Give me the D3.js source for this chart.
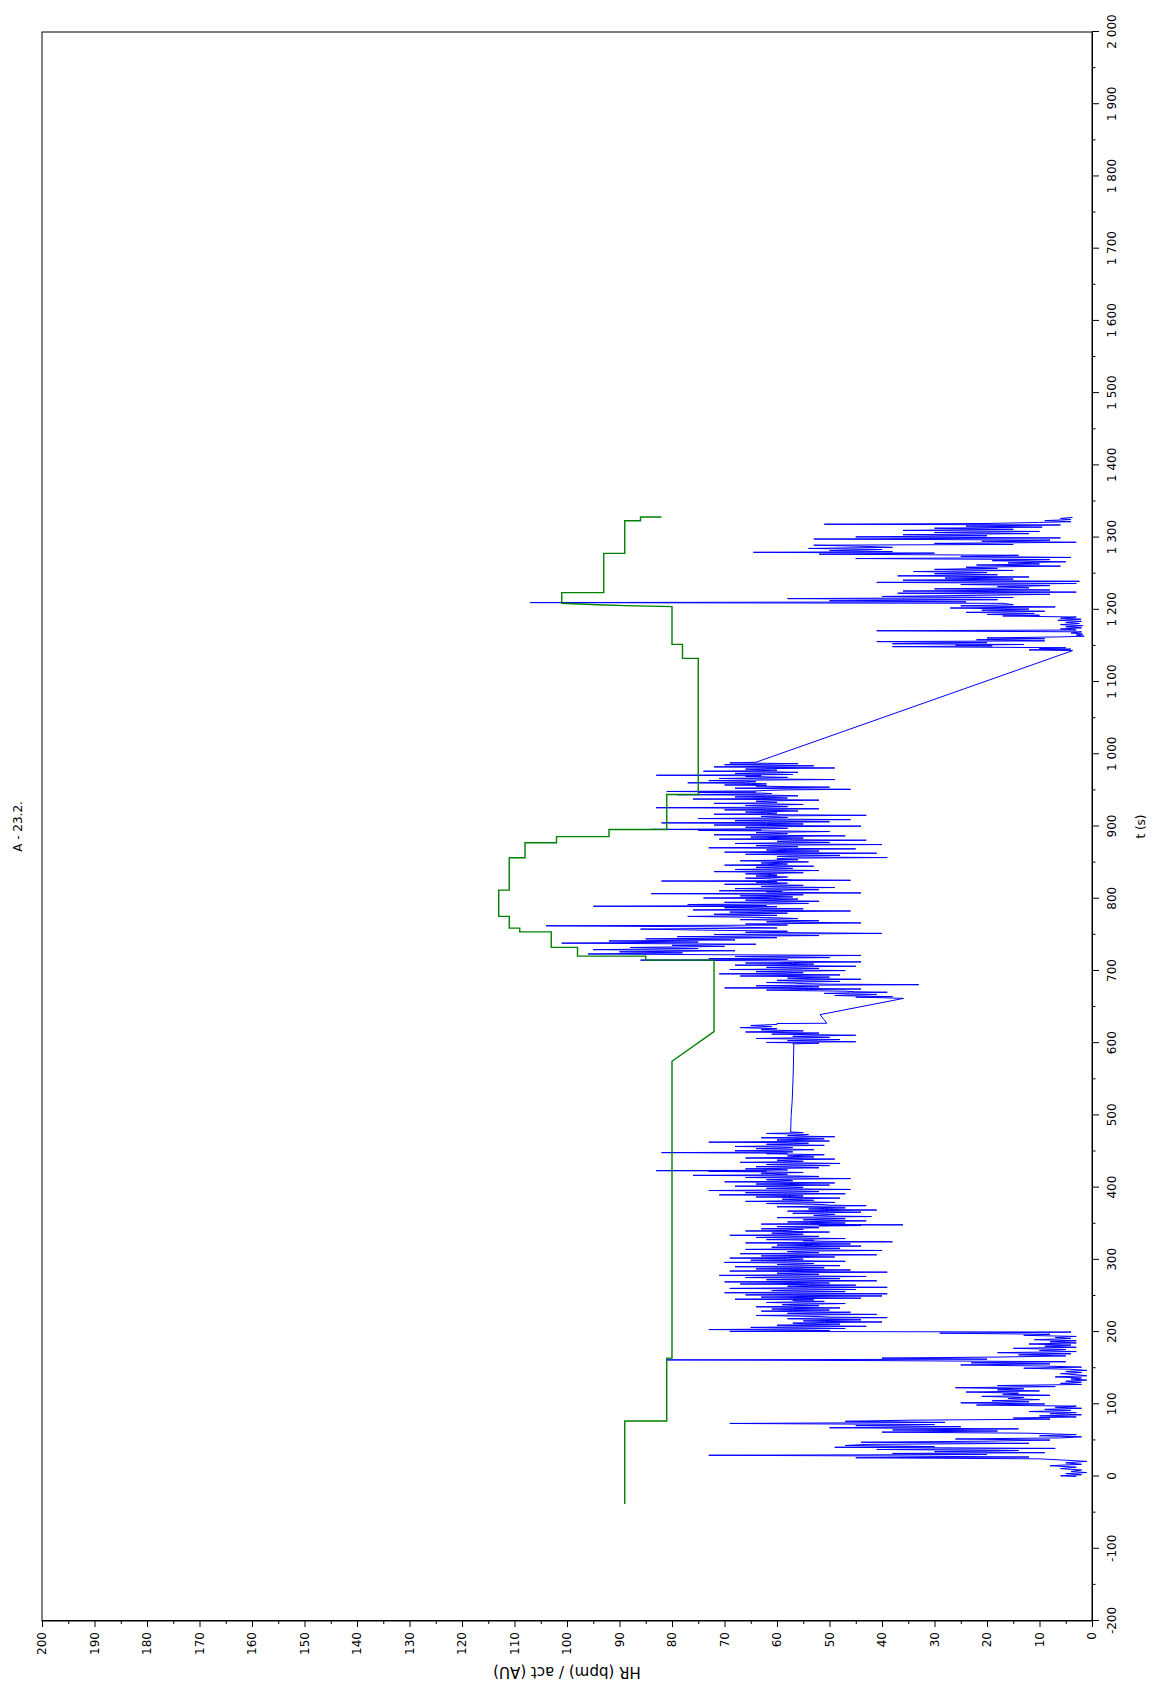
<!DOCTYPE html>
<html><head><meta charset="utf-8">
<script src="https://cdn.jsdelivr.net/npm/d3@7"></script>
<style>
body{margin:0;background:#fff}
svg{display:block}
text{font-family:"DejaVu Sans",sans-serif;fill:#000}
</style>
</head><body>
<script>
// ---------- texts ----------
const titleText = "A - 23.2.";
const tAxisLabel = "t (s)";
const hrAxisLabel = "HR (bpm) / act (AU)";

// ---------- ticks ----------
const tMajorTicks = [-200,-100,0,100,200,300,400,500,600,700,800,900,1000,1100,1200,1300,1400,1500,1600,1700,1800,1900,2000];
const tMinorTicks = [-150,-50,50,150,250,350,450,550,650,750,850,950,1050,1150,1250,1350,1450,1550,1650,1750,1850,1950];
const hrMajorTicks = [0,10,20,30,40,50,60,70,80,90,100,110,120,130,140,150,160,170,180,190,200];
const hrMinorTicks = [5,15,25,35,45,55,65,75,85,95,105,115,125,135,145,155,165,175,185,195];

// ---------- green series: activity (t, AU) ----------
const actSeries = [[-38,89],[77,89],[77,81],[164,81],[164,80],[575,80],[616,72],[715,72],[715,85],[720.6,85],[720.6,98],[732.7,98],[732.7,103],[754.1,103],[754.1,109],[759.3,109],[759.3,111],[775.6,111],[775.6,113],[811.9,113],[811.9,111],[856.7,111],[856.7,108],[877.6,108],[877.6,102],[886,102],[886,92],[895.8,92],[895.8,81],[944.3,81],[944.3,75],[1132.8,75],[1132.8,78],[1152.2,78],[1152.2,80],[1204.4,80],[1205.8,89],[1207,94],[1209,101],[1223.8,101],[1223.8,93],[1278.2,93],[1278.2,89],[1323.4,89],[1323.4,86],[1328.5,86],[1328.5,82]];

// ---------- blue series: HR (t, bpm), in segments ----------
const hrStart = [[0,3],[1,6],[2.5,2],[4,5],[5.5,1],[7,4],[9,2],[11,6],[13,3],[15,8],[17,2],[19,5],[21,1],[23,6],[24.5,10],[26,45],[27,12],[28.5,40],[29.5,73],[30.5,20],[32,38],[33,9],[34.5,30],[36,14],[37.5,41],[39,7],[40.5,49],[41.5,30],[43,47],[44.5,43],[46,12],[47.5,44],[49,20],[50.5,8],[52,26],[53.5,6],[55,2],[56.5,10],[58,3],[60,12],[61.5,40],[63,18],[64.5,38],[66,14],[67.5,50],[69,25],[70.5,45],[72,30],[73.5,69],[75,28],[76.5,47],[78,35],[79.5,8],[81,15],[82.5,3],[84,10],[85.5,2],[87,8],[88.5,3],[90,12],[91.5,4],[93,9],[94.5,2],[96,7],[97.5,3],[99,22],[100.5,9],[102,25],[103.5,12],[105,19],[106.5,10],[108,16],[109.5,13],[111,21],[112.5,8],[114,17],[115.5,14],[117,24],[118.5,10],[120,18],[121.5,13],[123,26],[124.5,7],[126,18],[127.5,2],[129,6],[130.5,2],[132,5],[133.5,1],[135,4],[136.5,2],[138,7],[139.5,1],[141,3],[142.5,6],[144,2],[145.5,5],[147,1],[148.5,4],[150,13],[151.5,2],[153,9],[154.5,25],[156,8],[157.5,23],[159,5],[160.5,40],[161.5,81],[162.5,20],[164,40],[165.5,17],[167,5],[168.5,14],[170,4],[171.5,18],[173,3],[174.5,10],[176,5],[177.5,15],[179,3],[180.5,9],[182,4],[183.5,12],[185,3],[186.5,8],[188,3],[189.5,11],[191,4],[192.5,7],[194,3],[195.5,13],[197,8],[198.5,29],[200,4]];

const hrRest = [[201,69],[201.7,58],[202,50],[202.8,56],[203.5,73],[204.2,60],[205,47],[205.7,55],[206.5,65],[207.2,57],[208,43],[208.7,52],[209.5,60],[210.2,54],[211,48],[211.7,55],[212.5,57],[213.2,51],[214,40],[214.7,50],[215.5,55],[216.2,49],[217,44],[217.7,52],[218.5,58],[219.2,53],[220,39],[220.7,50],[221.5,52],[222.2,57],[223,64],[223.7,55],[224.5,41],[225.2,53],[226,58],[226.7,52],[227.5,46],[228.2,56],[229,63],[229.7,57],[230.5,50],[231.2,58],[232,61],[232.7,55],[233.5,48],[234.2,57],[235,64],[235.7,58],[236.5,52],[237.2,57],[238,59],[238.7,54],[239.5,47],[240.2,55],[241,62],[241.7,57],[242.5,51],[243.2,56],[244,57],[244.7,53],[245.5,68],[246.2,58],[247,44],[247.7,54],[248.5,63],[249.2,56],[250,40],[250.7,52],[251.5,66],[252.2,57],[253,39],[253.7,53],[254.5,70],[255.2,59],[256,47],[256.7,55],[257.5,61],[258.2,56],[259,45],[259.7,54],[260.5,69],[261.2,58],[262,39],[262.7,52],[263.5,58],[264.2,55],[265,45],[265.7,54],[266.5,67],[267.2,59],[268,50],[268.7,56],[269.5,70],[270.2,57],[271,41],[271.7,53],[272.5,62],[273.2,56],[274,48],[274.7,55],[275.5,66],[276.2,58],[277,43],[277.7,54],[278.5,71],[279.2,59],[280,52],[280.7,57],[281.5,60],[282.2,55],[283,39],[283.7,52],[284.5,69],[285.2,58],[286,46],[286.7,55],[287.5,64],[288.2,57],[289,51],[289.7,56],[290.5,68],[291.2,58],[292,48],[292.7,55],[293.5,60],[294.2,56],[295,53],[295.7,58],[296.5,70],[297.2,60],[298,47],[298.7,55],[299.5,65],[300.2,58],[301,55],[301.7,59],[302.5,69],[303.2,58],[304,49],[304.7,55],[305.5,63],[306.2,56],[307,41],[307.7,52],[308.5,67],[309.2,57],[310,52],[310.7,56],[311.5,58],[312.2,54],[313,40],[313.7,52],[314.5,66],[315.2,57],[316,48],[316.7,54],[317.5,61],[318.2,55],[319,44],[319.7,53],[320.5,60],[321.2,55],[322,46],[322.7,54],[323.5,66],[324.2,56],[325,38],[325.7,51],[326.5,55],[327.2,53],[328,62],[328.7,56],[329.5,47],[330.2,55],[331,64],[331.7,58],[332.5,52],[333.2,57],[334,69],[334.7,59],[335.5,55],[336.2,58],[337,61],[337.7,57],[338.5,50],[339.2,56],[340,66],[340.7,58],[341.5,57],[342.2,55],[343,63],[343.7,57],[344.5,52],[345.2,55],[346,60],[346.7,53],[347.5,44],[348,52],[348.5,36],[349,50],[349.5,63],[350.2,54],[351,47],[351.7,52],[352.5,58],[353.2,52],[354,43],[354.7,50],[355.5,55],[356.2,51],[357,47],[357.7,52],[358.5,60],[359.2,53],[360,42],[360.7,50],[361.5,53],[362.2,51],[363,49],[363.7,52],[364.5,57],[365.2,51],[366,44],[366.7,50],[367.5,58],[368.2,52],[369,41],[369.7,50],[370.5,54],[371.2,51],[372,47],[372.7,52],[373.5,60],[374.2,53],[375,43],[375.7,50],[376.5,51],[377.2,55],[378,62],[378.7,56],[379.5,49],[380.2,55],[381,66],[381.7,58],[382.5,53],[383.2,56],[384,59],[384.7,55],[385.5,48],[386.2,55],[387,64],[387.7,58],[388.5,55],[389.2,58],[390,71],[390.7,59],[391.5,47],[392.2,56],[393,66],[393.7,58],[394.5,52],[395.2,57],[396,73],[396.7,60],[397.5,46],[398.2,55],[399,62],[399.7,57],[400.5,55],[401.2,58],[402,68],[402.7,59],[403.5,50],[404.2,56],[405,64],[405.7,58],[406.5,49],[407.2,56],[408,70],[408.7,60],[409.5,57],[410.2,59],[411,62],[411.7,57],[412.5,46],[413.2,55],[414,66],[414.7,59],[415.5,52],[416.2,57],[417,76],[417.7,61],[418.5,58],[419.2,60],[420,63],[420.5,58],[421,55],[421.7,61],[422.5,73],[423,62],[423.5,83],[424,63],[424.5,58],[425.2,60],[426,66],[426.7,59],[427.5,52],[428.2,57],[429,64],[429.7,58],[430.5,50],[431.2,56],[432,62],[432.7,57],[433.5,48],[434.2,55],[435,67],[435.7,59],[436.5,55],[437.2,58],[438,60],[438.7,56],[439.5,49],[440.2,56],[441,66],[441.7,59],[442.5,53],[443.2,57],[444,58],[444.7,55],[445.5,51],[446.2,56],[447,62],[447.7,58],[448.5,82],[449,63],[449.5,57],[450.2,60],[451,68],[451.7,60],[452.5,53],[453.2,57],[454,64],[454.7,59],[455.5,57],[456.2,60],[457,68],[457.7,60],[458.5,51],[459.2,56],[460,62],[460.7,57],[461.5,54],[462.2,58],[463,73],[463.7,61],[464.5,50],[465.2,56],[466,60],[466.7,56],[467.5,51],[468.2,56],[469,63],[469.7,57],[470.5,49],[471.2,55],[472,58],[472.7,55],[473.5,54],[474.2,57],[475,62],[475.6,58],[476.2,55],[477,57.4],[500,57.3],[521,57.1],[560,56.9],[598,56.8]];

const hrMiddle = [[599,57],[600,52],[601,62],[602,45],[603.5,58],[605,48],[606.5,64],[608,50],[609.5,57],[611,45],[612.5,61],[614,52],[615.5,66],[617,55],[618.5,63],[620,60],[621.5,67],[623,61],[624.5,65],[626,60],[627.2,60],[627.6,50.5],[639.5,51.8],[662,35.9],[663,40],[663.7,45],[664.5,38],[665.2,44],[666,49],[666.7,45],[667.5,41],[668.2,46],[669,51],[669.7,46],[670.5,39],[671.2,45],[672,47],[672.7,55],[673.5,62],[674.2,55],[675,44],[675.7,54],[676.5,70],[677.2,58],[678,52],[678.7,57],[679.5,64],[680.2,56],[681,33],[681.7,50],[682.5,55],[683.2,57],[684,62],[684.7,56],[685.5,48],[686.2,54],[687,60],[687.7,55],[688.5,44],[689.2,53],[690,58],[690.7,55],[691.5,50],[692.2,56],[693,67],[693.7,58],[694.5,48],[695.2,56],[696,71],[696.7,59],[697.5,55],[698.2,58],[699,64],[699.7,57],[700.5,47],[701.2,55],[702,69],[702.7,58],[703.5,52],[704.2,57],[705,62],[705.7,56],[706.5,45],[707.2,54],[708,68],[708.7,58],[709.5,53],[710.2,57],[711,66],[711.7,57],[712.5,44],[713.2,54],[714,60],[715,86],[716,58],[717,73],[718.5,50],[720,68],[721.5,44],[722.5,72],[723.5,96],[725,78],[726.5,90],[728,68],[729.5,95],[731,75],[732.5,88],[734,70],[735.5,80],[737,64],[738.5,101],[740,75],[741.5,92],[743,68],[744.5,85],[746,60],[747.5,79],[749,52],[750.5,72],[752,40],[753.5,66],[755,58],[756.5,74],[758,86],[759.5,60],[761,70],[762.5,104],[763.5,58],[765,66],[766.5,44],[768,62],[769.5,52],[771,67],[772.5,56],[774,62],[775.5,77],[777,60],[778.5,72],[780,58],[781.5,69],[783,46],[784.5,76],[786,55],[787.5,70],[789,60],[789.6,95],[790.5,62]];

const hrPeak = [[792,77],[792.7,62],[793.5,54],[794.2,60],[795,70],[795.7,61],[796.5,52],[797.2,59],[798,66],[798.7,60],[799.5,56],[800.2,61],[801,74],[801.7,63],[802.5,57],[803.2,61],[804,67],[804.7,60],[805.5,55],[806.2,60],[807,84],[807.5,62],[808,44],[808.7,57],[809.5,62],[810.2,59],[811,71],[811.7,61],[812.5,52],[813.2,59],[814,68],[814.7,61],[815.5,49],[816.2,58],[817,63],[817.7,59],[818.5,55],[819.2,60],[820,70],[820.7,62],[821.5,58],[822.2,61],[823,64],[823.7,60],[824.5,82],[825,62],[825.5,46],[826.2,57],[827,60],[827.7,62],[828.5,66],[829.2,61],[830,58],[830.7,61],[831.5,64],[832.2,60],[833,60],[833.7,62],[834.5,66],[835.2,60],[836,55],[836.7,61],[837.5,72],[838.2,62],[839,52],[839.7,59],[840.5,68],[841.2,61],[842,57],[842.7,60],[843.5,64],[844.2,60],[845,53],[845.7,59],[846.5,70],[847.2,62],[848,58],[848.7,60],[849.5,63],[850.2,60],[851,54],[851.7,59],[852.5,67],[853.2,61],[854,56],[854.7,60],[855.5,60],[856.2,57],[857,39],[857.7,55],[858.5,60],[859.2,57],[860,48],[860.7,57],[861.5,66],[862.2,60],[863,41],[863.7,56],[864.5,70],[865.2,61],[866,52],[866.7,59],[867.5,62],[868.2,58],[869,45],[869.7,57],[870.5,73],[871.2,62],[872,56],[872.7,60],[873.5,64],[874.2,59],[875,40],[875.7,56],[876.5,68],[877.2,61],[878,50],[878.7,58],[879.5,60],[880.2,57],[881,43],[881.7,57],[882.5,71],[883.2,62],[884,55],[884.7,60],[885.5,65],[886.2,60],[887,47],[887.7,58],[888.5,72],[889.2,62],[890,58],[890.7,61],[891.5,64],[892.2,59],[893,50],[893.7,59],[894.5,75],[895.2,63],[896,84],[896.7,62],[897.5,58],[898.2,61],[899,66],[899.7,59],[900.5,44],[901.2,57],[902,72],[902.7,62],[903.5,55],[904.2,60],[905,82],[905.7,62],[906.5,50],[907.2,59],[908,68],[908.7,61],[909.5,46],[910.2,58],[911,75],[911.7,62],[912.5,58],[913.2,61],[914,63],[914.7,59],[915.5,43],[916.2,57],[917,72],[917.7,62],[918.5,60],[919.2,62],[920,66],[920.7,61],[921.5,56],[922.2,60],[923,70],[923.7,62],[924.5,52],[925.2,60],[926,83],[926.7,63],[927.5,58],[928.2,62],[929,66],[929.7,61],[930.5,55],[931.2,60],[932,72],[932.7,62],[933.5,60],[934.2,62],[935,64],[935.7,60],[936.5,52],[937.2,60],[938,76],[938.7,63],[939.5,58],[940.2,61],[941,68],[941.7,62],[942.5,56],[943.2,60],[944,79],[944.7,63],[945.5,61],[946.2,63],[947,75],[947.7,64],[948.5,81],[949.2,64],[950,62],[950.7,58],[951.5,46],[952.2,57],[953,68],[953.7,60],[954.5,50],[955.2,58],[956,64],[956.7,62],[957.5,70],[958.2,64],[959,62],[959.7,65],[960.5,77],[961.2,66],[962,64],[962.7,66],[963.5,73],[964.2,64],[965,49],[965.7,60],[966.5,71],[967.2,63],[968,58],[968.7,62],[969.5,66],[970.2,63],[971,83],[971.5,65],[972,57],[972.7,62],[973.5,68],[974.2,62],[975,56],[975.7,61],[976.5,74],[977.2,64],[978,60],[978.7,63],[979.5,66],[980.2,61],[981,49],[981.7,59],[982.5,72],[983.2,63],[984,53],[984.7,60],[985.5,70],[986.2,63],[987,56],[987.5,62],[988,69],[989,64]];

const hrEnd = [[1143.5,3.7],[1144.5,12],[1145.5,4],[1146.5,10],[1147.5,5],[1149,38],[1150,19],[1151,26],[1152,13],[1153,38],[1154.5,20],[1156,41],[1157,9],[1158.5,22],[1160,9],[1161,20],[1162.5,6],[1163.5,1.5],[1165,3],[1166.5,1.8],[1168,4],[1169.5,2],[1171,41],[1172,3],[1173.5,6],[1175,2],[1176.5,5],[1178,1.8],[1179.5,6],[1181,2.4],[1182.5,5],[1184,2],[1185.5,6.5],[1187,2.1],[1188.5,6],[1190,3],[1191.5,17],[1192.5,10],[1193.5,20],[1195,11],[1196.5,24],[1198,9],[1199.5,21],[1201,12],[1202.5,27],[1204,7],[1205.5,25],[1207,15],[1209,17],[1210,107],[1211,24],[1212.5,50],[1214,18],[1215.5,58],[1217,15],[1218.5,40],[1220,22],[1221.5,8],[1223,37],[1224.5,3],[1226,36],[1227.5,8],[1229,30],[1230.5,12],[1232,18],[1233.5,8],[1235,25],[1236.5,3],[1238,41],[1239.5,2.4],[1241,36],[1242.5,15],[1244,28],[1245.5,12],[1247,37],[1248.5,18],[1250,30],[1251.5,20],[1253,34],[1254.5,15],[1256,30],[1257.5,18],[1259,24],[1260.5,6],[1262,22],[1263.5,10],[1265,16],[1266.5,5],[1268,19],[1269.5,8],[1271,45],[1272.5,4],[1274,25],[1275.5,14],[1277,52],[1278.5,30],[1279.6,64.5],[1280.5,38],[1282,50],[1283.5,40],[1285,54],[1286.5,38],[1288,44],[1289.5,53],[1290.5,15],[1292,30],[1293.5,3],[1295,21],[1296.5,8],[1298,53],[1299.5,6],[1301,45],[1302.5,20],[1304,36],[1305.5,12],[1307,30],[1308.5,10],[1310,36],[1311.5,15],[1313,30],[1314.5,9.5],[1316,24],[1317.5,6],[1318.5,51],[1319.5,20],[1321,10],[1322,4],[1323.5,9],[1325,4],[1326.5,6],[1328,3.7]];

// ---------- drawing ----------
const W = 1152, H = 1682;
const svg = d3.select("body").append("svg").attr("width", W).attr("height", H);
svg.append("rect").attr("width", W).attr("height", H).attr("fill", "#fff");
// chart is drawn in its own frame then turned a quarter turn counter-clockwise
const g = svg.append("g").attr("transform", `translate(0,${H}) rotate(-90)`);

const x = d3.scaleLinear().domain([-200, 2000]).range([61, 1650]);
const y = d3.scaleLinear().domain([0, 200]).range([1092, 42]);

const loc = d3.formatLocale({decimal: ".", thousands: " ", grouping: [3], currency: ["", ""], minus: "-"});
const fmt = loc.format(",d");

// frame
g.append("rect")
  .attr("x", x(-200)).attr("y", y(200))
  .attr("width", x(2000) - x(-200)).attr("height", y(0) - y(200))
  .attr("fill", "none").attr("stroke", "#000").attr("stroke-width", 1);

// t axis (bottom of the chart frame)
const tAxis = g.append("g").attr("transform", `translate(0,${y(0)})`)
  .call(d3.axisBottom(x).tickValues(tMajorTicks).tickSize(7).tickSizeOuter(0).tickFormat(fmt));
tAxis.selectAll("text").attr("y", 15).attr("font-size", 12);
g.append("g").attr("transform", `translate(0,${y(0)})`)
  .call(d3.axisBottom(x).tickValues(tMinorTicks).tickSize(3.5).tickSizeOuter(0).tickFormat(""));

// HR axis (left of the chart frame)
const hAxis = g.append("g").attr("transform", `translate(${x(-200)},0)`)
  .call(d3.axisLeft(y).tickValues(hrMajorTicks).tickSize(6).tickSizeOuter(0).tickFormat(fmt));
hAxis.selectAll("text").attr("x", -11).attr("font-size", 12);
g.append("g").attr("transform", `translate(${x(-200)},0)`)
  .call(d3.axisLeft(y).tickValues(hrMinorTicks).tickSize(3).tickSizeOuter(0).tickFormat(""));

g.selectAll(".domain").attr("stroke", "#000");
g.selectAll(".tick line").attr("stroke", "#000");
g.selectAll(".tick text").attr("font-family", "DejaVu Sans").attr("fill", "#000");

// lines
const line = d3.line().x(d => x(d[0])).y(d => y(d[1]));
const hrAll = [].concat(hrStart, hrRest, hrMiddle, hrPeak, hrEnd);
g.append("path").datum(hrAll)
  .attr("d", line).attr("fill", "none").attr("stroke", "#0000ff").attr("stroke-width", 1);
g.append("path").datum(actSeries)
  .attr("d", line).attr("fill", "none").attr("stroke", "#008000").attr("stroke-width", 1.4);

// texts
const cx = (x(-200) + x(2000)) / 2;
g.append("text").attr("x", cx).attr("y", 22).attr("text-anchor", "middle")
  .attr("font-size", 12).text(titleText);
g.append("text").attr("x", cx).attr("y", 1145).attr("text-anchor", "middle")
  .attr("font-size", 12).text(tAxisLabel);
g.append("text").attr("transform", `translate(15,${(y(0) + y(200)) / 2}) rotate(-90)`)
  .attr("text-anchor", "middle").attr("font-size", 15).text(hrAxisLabel);
</script>
</body></html>
